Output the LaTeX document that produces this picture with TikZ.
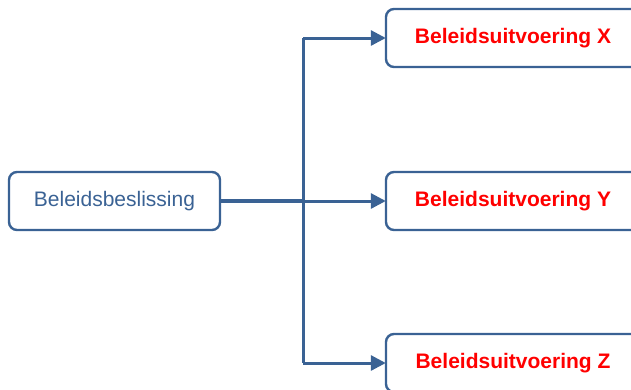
\documentclass[tikz,border=0pt]{standalone}
\usepackage{fontspec}
\setmainfont{Liberation Sans}
\usetikzlibrary{arrows.meta}
\definecolor{lijnblauw}{RGB}{58,98,148}
\definecolor{tekstrood}{RGB}{255,0,0}

\begin{document}
\begin{tikzpicture}[x=1pt,y=-1pt,
  box/.style={draw=lijnblauw, line width=2.4pt, rounded corners=8pt,
    minimum height=58pt, inner sep=0pt, font=\fontsize{21}{25}\selectfont},
  uitvoering/.style={box, minimum width=254pt, text=tekstrood, font=\fontsize{21}{25}\selectfont\bfseries},
  tak/.style={draw=lijnblauw, line width=3pt},
  pijl/.style={tak, -{Triangle[length=15pt,width=15pt]}, shorten >=-1pt}]
  % picture frame
  \useasboundingbox (0,0) rectangle (631,389);
  \clip (0,0) rectangle (631,389);

  % decision
  \node[box, minimum width=211pt, text=lijnblauw, at={(114.5,201)}] (besluit) {Beleidsbeslissing};

  % implementations
  \node[uitvoering, at={(513,38)}] (uitX) {Beleidsuitvoering X};
  \node[uitvoering, at={(513,201)}] (uitY) {Beleidsuitvoering Y};
  \node[uitvoering, at={(513,363)}] (uitZ) {Beleidsuitvoering Z};

  % branching
  \coordinate (splits) at (303,201);
  \coordinate (boven) at (303,38);
  \coordinate (onder) at (303,363);
  \draw[tak, line width=3.3pt] (besluit.east) -- (splits);
  \draw[tak] (boven) -- (onder);
  \draw[pijl] (boven) -- (uitX.west);
  \draw[pijl] (splits) -- (uitY.west);
  \draw[pijl] (onder) -- (uitZ.west);
\end{tikzpicture}
\end{document}
